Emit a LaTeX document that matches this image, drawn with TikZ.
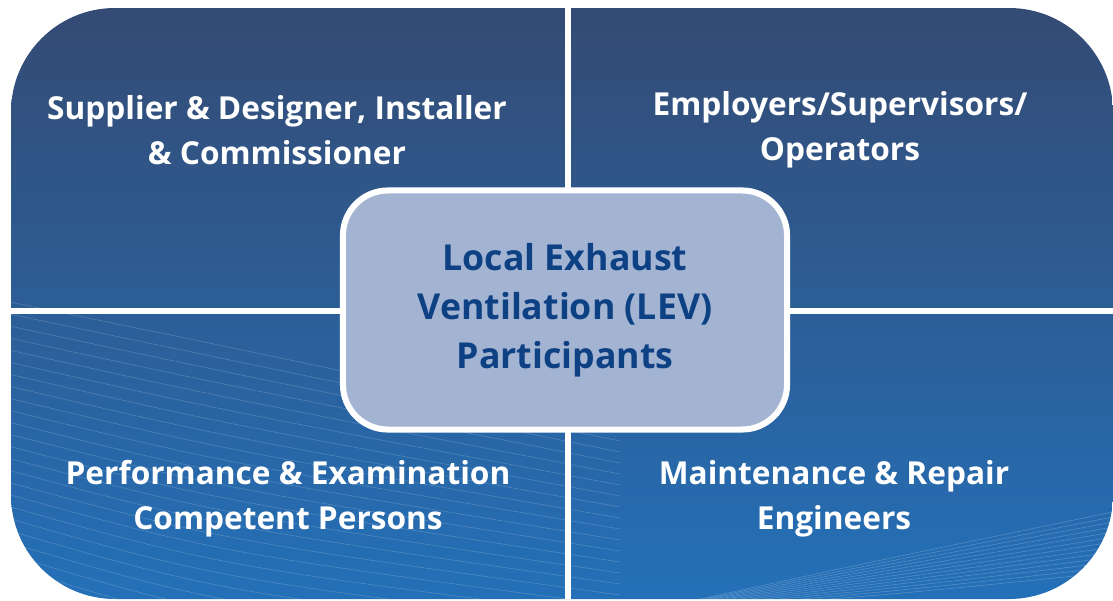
\documentclass[tikz,border=0pt]{standalone}
\usepackage{fontspec}
\setmainfont{Open Sans}
\usetikzlibrary{positioning}

\definecolor{bgtop}{HTML}{344B74}
\definecolor{bgmid}{HTML}{2F5E9A}
\definecolor{bgbot}{HTML}{2470B8}
\definecolor{hubfill}{HTML}{A3B4D3}
\definecolor{hubtext}{HTML}{0E4184}

\begin{document}
\begin{tikzpicture}[x=0.025cm,y=-0.025cm,%
        quad/.style={text=white,align=center,
          font=\bfseries\fontsize{22.5}{32}\selectfont},
        hub/.style={draw=white,line width=4.3pt,fill=hubfill,
          rounded corners=32pt,minimum width=11.1cm,minimum height=5.975cm,
          text=hubtext,align=center,
          font=\bfseries\fontsize{25.4}{35}\selectfont},
        divider/.style={white,line width=4.3pt}]

      \useasboundingbox (0,0) rectangle (1113,600);

      % background panel
      \shade[top color=bgtop,middle color=bgmid,bottom color=bgbot,
        rounded corners=2.6cm] (11,8) rectangle (1113,599);

      \begin{scope}
        \clip[rounded corners=2.6cm] (11,8) rectangle (1113,599);
        \foreach \k in {0,...,26}
          \draw[white,opacity=0.2,line width=0.4pt]
            (0,300+12*\k) .. controls (220,345+13*\k) .. (620,430+11*\k);
        \foreach \k in {0,...,12}
          \draw[white,opacity=0.22,line width=0.4pt]
            (640,612) .. controls (880,560+3*\k) .. (1113,512+5*\k);

        \coordinate (top)    at (568,0);
        \coordinate (bottom) at (568,600);
        \coordinate (left)   at (0,311);
        \coordinate (right)  at (1113,311);
        \draw[divider] (top) -- (bottom);
        \draw[divider] (left) -- (right);
      \end{scope}

      \node[quad] (supplier)    at (277,130) {Supplier \& Designer, Installer\\\& Commissioner};
      \node[quad] (employers)   at (840,130) {Employers/Supervisors/\\Operators};
      \node[quad] (examiners)   at (288,499) {Performance \& Examination\\Competent Persons};
      \node[quad] (maintenance) at (834,499) {Maintenance \& Repair\\Engineers};

      \node[hub]  (lev)         at (565,310) {Local Exhaust\\Ventilation (LEV)\\Participants};

    \end{tikzpicture}
\end{document}
